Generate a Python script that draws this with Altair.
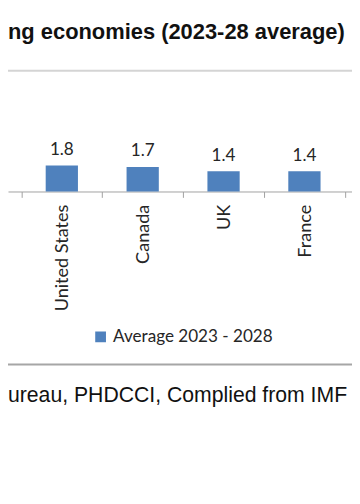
import altair as alt
import pandas as pd

countries = ["United States", "Canada", "UK", "France"]
values = [1.8, 1.7, 1.4, 1.4]
series_name = "Average 2023 - 2028"
heading = ["ng economies (2023-28 average)"]
source = ["ureau, PHDCCI, Complied from IMF"]

df = pd.DataFrame({"country": countries, "value": values, "series": [series_name] * len(countries)})

BLUE = "#4F81BD"
FONT = "Lato"

x = alt.X(
    "country:N",
    sort=countries,
    scale=alt.Scale(paddingInner=0, paddingOuter=0.1269, align=0.652),
    axis=alt.Axis(
        title=None,
        labelAngle=-90,
        labelAlign="right",
        labelBaseline="middle",
        labelPadding=7,
        tickSize=6,
        tickBand="extent",
        tickColor="#a0a0a0",
        domainColor="#a0a0a0",
        labelFont=FONT,
        labelFontSize=18.5,
        labelColor="#262626",
    ),
)
y = alt.Y("value:Q", scale=alt.Scale(domain=[0, 12.3]), axis=None)

bars = alt.Chart(df).mark_bar(width=33).encode(
    x=x,
    y=y,
    color=alt.Color(
        "series:N",
        scale=alt.Scale(domain=[series_name], range=[BLUE]),
        legend=alt.Legend(
            title=None,
            orient="none",
            legendX=86,
            legendY=322,
            symbolType="square",
            symbolSize=121,
            symbolStrokeWidth=0,
            labelFont=FONT,
            labelFontSize=17.5,
            labelColor="#262626",
            labelOffset=4,
            labelLimit=0,
            padding=0,
        ),
    ),
)

labels = alt.Chart(df).mark_text(
    dy=-11, baseline="alphabetic", font=FONT, fontSize=17.5, color="#262626"
).encode(x=x, y=y, text=alt.Text("value:Q", format=".1f"))

title_text = alt.Chart(pd.DataFrame({"t": heading})).mark_text(
    align="left", baseline="alphabetic", font="Liberation Sans", fontWeight="bold",
    fontSize=22.4, color="#111111"
).encode(x=alt.value(0), y=alt.value(26), text="t:N")

source_text = alt.Chart(pd.DataFrame({"t": source})).mark_text(
    align="left", baseline="alphabetic", font="Liberation Sans",
    fontSize=21.7, color="#111111"
).encode(x=alt.value(0), y=alt.value(397), text="t:N")

rule_top = alt.Chart(pd.DataFrame({"a": [0]})).mark_rule(color="#d4d4d4", strokeWidth=2).encode(
    x=alt.value(0), x2=alt.value(352), y=alt.value(58.5)
)
rule_bottom = alt.Chart(pd.DataFrame({"a": [0]})).mark_rule(color="#a6a6a6", strokeWidth=2).encode(
    x=alt.value(0), x2=alt.value(352), y=alt.value(359)
)

chart = alt.layer(bars, labels, title_text, source_text, rule_top, rule_bottom).properties(
    width=352,
    height=182,
    autosize=alt.AutoSizeParams(type="none"),
    padding={"left": 0, "top": 0, "right": 0, "bottom": 314},
    background="white",
).configure_view(stroke=None)

chart.save("out.html", embed_options={"renderer": "svg", "actions": False})
